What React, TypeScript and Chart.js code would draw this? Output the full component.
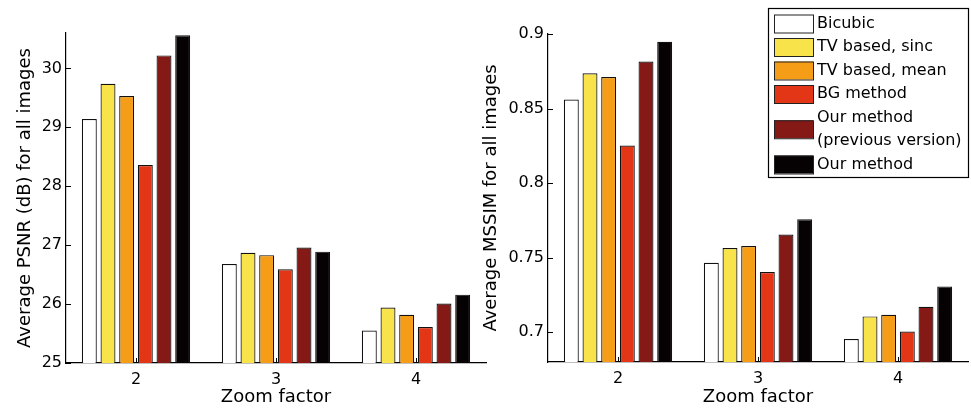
import React, { useEffect, useRef } from "react";
import { Chart, registerables } from "chart.js";

Chart.register(...registerables);

// ---------- data ----------
const categories = ["2", "3", "4"];
const methodLabels = [
  "Bicubic",
  "TV based, sinc",
  "TV based, mean",
  "BG method",
  "Our method\n(previous version)",
  "Our method",
];
const methodColors = ["#FFFFFF", "#F9E34B", "#F59D17", "#E23617", "#841916", "#060102"];

const psnrBicubic = [29.14, 26.68, 25.55];
const psnrTvSinc = [29.74, 26.87, 25.94];
const psnrTvMean = [29.53, 26.83, 25.82];
const psnrBg = [28.36, 26.59, 25.61];
const psnrOurPrev = [30.22, 26.96, 26.01];
const psnrOur = [30.56, 26.89, 26.16];

const mssimBicubic = [0.856, 0.7465, 0.6954];
const mssimTvSinc = [0.8736, 0.7565, 0.7106];
const mssimTvMean = [0.8712, 0.7578, 0.7117];
const mssimBg = [0.8252, 0.7404, 0.7005];
const mssimOurPrev = [0.8815, 0.7655, 0.717];
const mssimOur = [0.8948, 0.7757, 0.7307];

const psnrTicks = [25, 26, 27, 28, 29, 30];
const mssimTicks = [0.7, 0.75, 0.8, 0.85, 0.9];

const FONT = "'DejaVu Sans', 'Liberation Sans', Arial, sans-serif";

// ---------- plugins ----------
const innerTicks = {
  id: "innerTicks",
  afterDatasetsDraw(chart: any) {
    const { ctx, chartArea, scales } = chart;
    ctx.save();
    ctx.strokeStyle = "#000";
    ctx.lineWidth = 1;
    const ys = scales.y;
    ys.ticks.forEach((_t: any, i: number) => {
      const py = Math.round(ys.getPixelForTick(i)) + 0.5;
      ctx.beginPath();
      ctx.moveTo(chartArea.left, py);
      ctx.lineTo(chartArea.left + 5, py);
      ctx.stroke();
    });
    const xs = scales.x;
    xs.ticks.forEach((_t: any, i: number) => {
      const px = Math.round(xs.getPixelForTick(i)) + 0.5;
      ctx.beginPath();
      ctx.moveTo(px, chartArea.bottom);
      ctx.lineTo(px, chartArea.bottom - 5);
      ctx.stroke();
    });
    ctx.restore();
  },
};

const boxLegend = {
  id: "boxLegend",
  afterDraw(chart: any) {
    const opts = chart.options.plugins.boxLegend;
    if (!opts || !opts.show) return;
    const { ctx } = chart;
    const bx = opts.x, by = opts.y, bw = opts.w, bh = opts.h;
    ctx.save();
    ctx.fillStyle = "#fff";
    ctx.fillRect(bx, by, bw, bh);
    ctx.strokeStyle = "#000";
    ctx.lineWidth = 1.2;
    ctx.strokeRect(bx + 0.5, by + 0.5, bw, bh);
    ctx.font = "16px " + FONT;
    ctx.textBaseline = "middle";
    ctx.textAlign = "left";
    const pitch = 23.5;
    let line = 0;
    chart.data.datasets.forEach((ds: any) => {
      const lines = String(ds.label).split("\n");
      const firstY = by + 15.5 + line * pitch;
      const center = firstY + ((lines.length - 1) * pitch) / 2;
      ctx.fillStyle = ds.backgroundColor;
      ctx.fillRect(bx + 6, center - 9, 39, 18);
      ctx.strokeStyle = "#222";
      ctx.lineWidth = 1;
      ctx.strokeRect(bx + 6.5, center - 8.5, 39, 18);
      ctx.fillStyle = "#000";
      lines.forEach((l, k) => {
        ctx.fillText(l, bx + 49, firstY + k * pitch);
      });
      line += lines.length;
    });
    ctx.restore();
  },
};

function buildDatasets(series: number[][]) {
  return series.map((data, i) => ({
    label: methodLabels[i],
    data,
    backgroundColor: methodColors[i],
    borderColor: "#111",
    borderWidth: 1.2,
    categoryPercentage: 0.8,
    barPercentage: 0.8,
  }));
}

function makeConfig(p: any) {
  return {
    type: "bar",
    data: { labels: categories, datasets: buildDatasets(p.series) },
    plugins: [innerTicks, boxLegend],
    options: {
      animation: false,
      responsive: false,
      devicePixelRatio: 1,
      layout: { padding: p.padding },
      plugins: {
        legend: { display: false },
        tooltip: { enabled: false },
        boxLegend: p.legend,
      },
      scales: {
        x: {
          grid: { display: false, drawTicks: false },
          border: { display: true, color: "#000", width: 1.2 },
          ticks: { color: "#000", font: { family: FONT, size: 16 }, padding: 7 },
          title: {
            display: true,
            text: "Zoom factor",
            color: "#000",
            font: { family: FONT, size: 18 },
            padding: { top: 0, bottom: 2 },
          },
          afterFit: (s: any) => {
            s.height = p.xHeight;
          },
        },
        y: {
          min: p.min,
          max: p.max,
          grid: { display: false, drawTicks: false },
          border: { display: true, color: "#000", width: 1.2 },
          ticks: {
            color: "#000",
            font: { family: FONT, size: 16 },
            padding: 4,
            callback: (v: any) => String(Number(Number(v).toFixed(2))),
          },
          afterBuildTicks: (s: any) => {
            s.ticks = p.ticks.map((v: number) => ({ value: v }));
          },
          title: {
            display: true,
            text: p.yTitle,
            color: "#000",
            font: { family: FONT, size: 18 },
            padding: { top: p.yTitlePad, bottom: 0 },
          },
          afterFit: (s: any) => {
            s.width = p.yWidth;
          },
        },
      },
    },
  };
}

function BarPanel(props: { left: number; width: number; cfg: any }) {
  const ref = useRef<HTMLCanvasElement | null>(null);
  useEffect(() => {
    if (!ref.current) return;
    const chart = new Chart(ref.current, makeConfig(props.cfg) as any);
    return () => chart.destroy();
  }, []);
  return (
    <div style={{ position: "absolute", left: props.left, top: 0, width: props.width, height: 410 }}>
      <canvas ref={ref} width={props.width} height={410} style={{ display: "block" }} />
    </div>
  );
}

export default function App() {
  const leftCfg = {
    series: [psnrBicubic, psnrTvSinc, psnrTvMean, psnrBg, psnrOurPrev, psnrOur],
    min: 25,
    max: 30.6,
    ticks: psnrTicks,
    yTitle: "Average PSNR (dB) for all images",
    yTitlePad: 15,
    yWidth: 66,
    xHeight: 47,
    padding: { left: 0, top: 33, right: 4, bottom: 0 },
    legend: { show: false },
  };
  const rightCfg = {
    series: [mssimBicubic, mssimTvSinc, mssimTvMean, mssimBg, mssimOurPrev, mssimOur],
    min: 0.68,
    max: 0.9,
    ticks: mssimTicks,
    yTitle: "Average MSSIM for all images",
    yTitlePad: 6,
    yWidth: 73,
    xHeight: 48,
    padding: { left: 0, top: 34, right: 3, bottom: 0 },
    legend: { show: true, x: 293, y: 8, w: 200, h: 169 },
  };
  return (
    <div style={{ position: "absolute", left: 0, top: 0, width: 971, height: 410, background: "#fff" }}>
      <BarPanel left={0} width={490} cfg={leftCfg} />
      <BarPanel left={475} width={496} cfg={rightCfg} />
    </div>
  );
}
